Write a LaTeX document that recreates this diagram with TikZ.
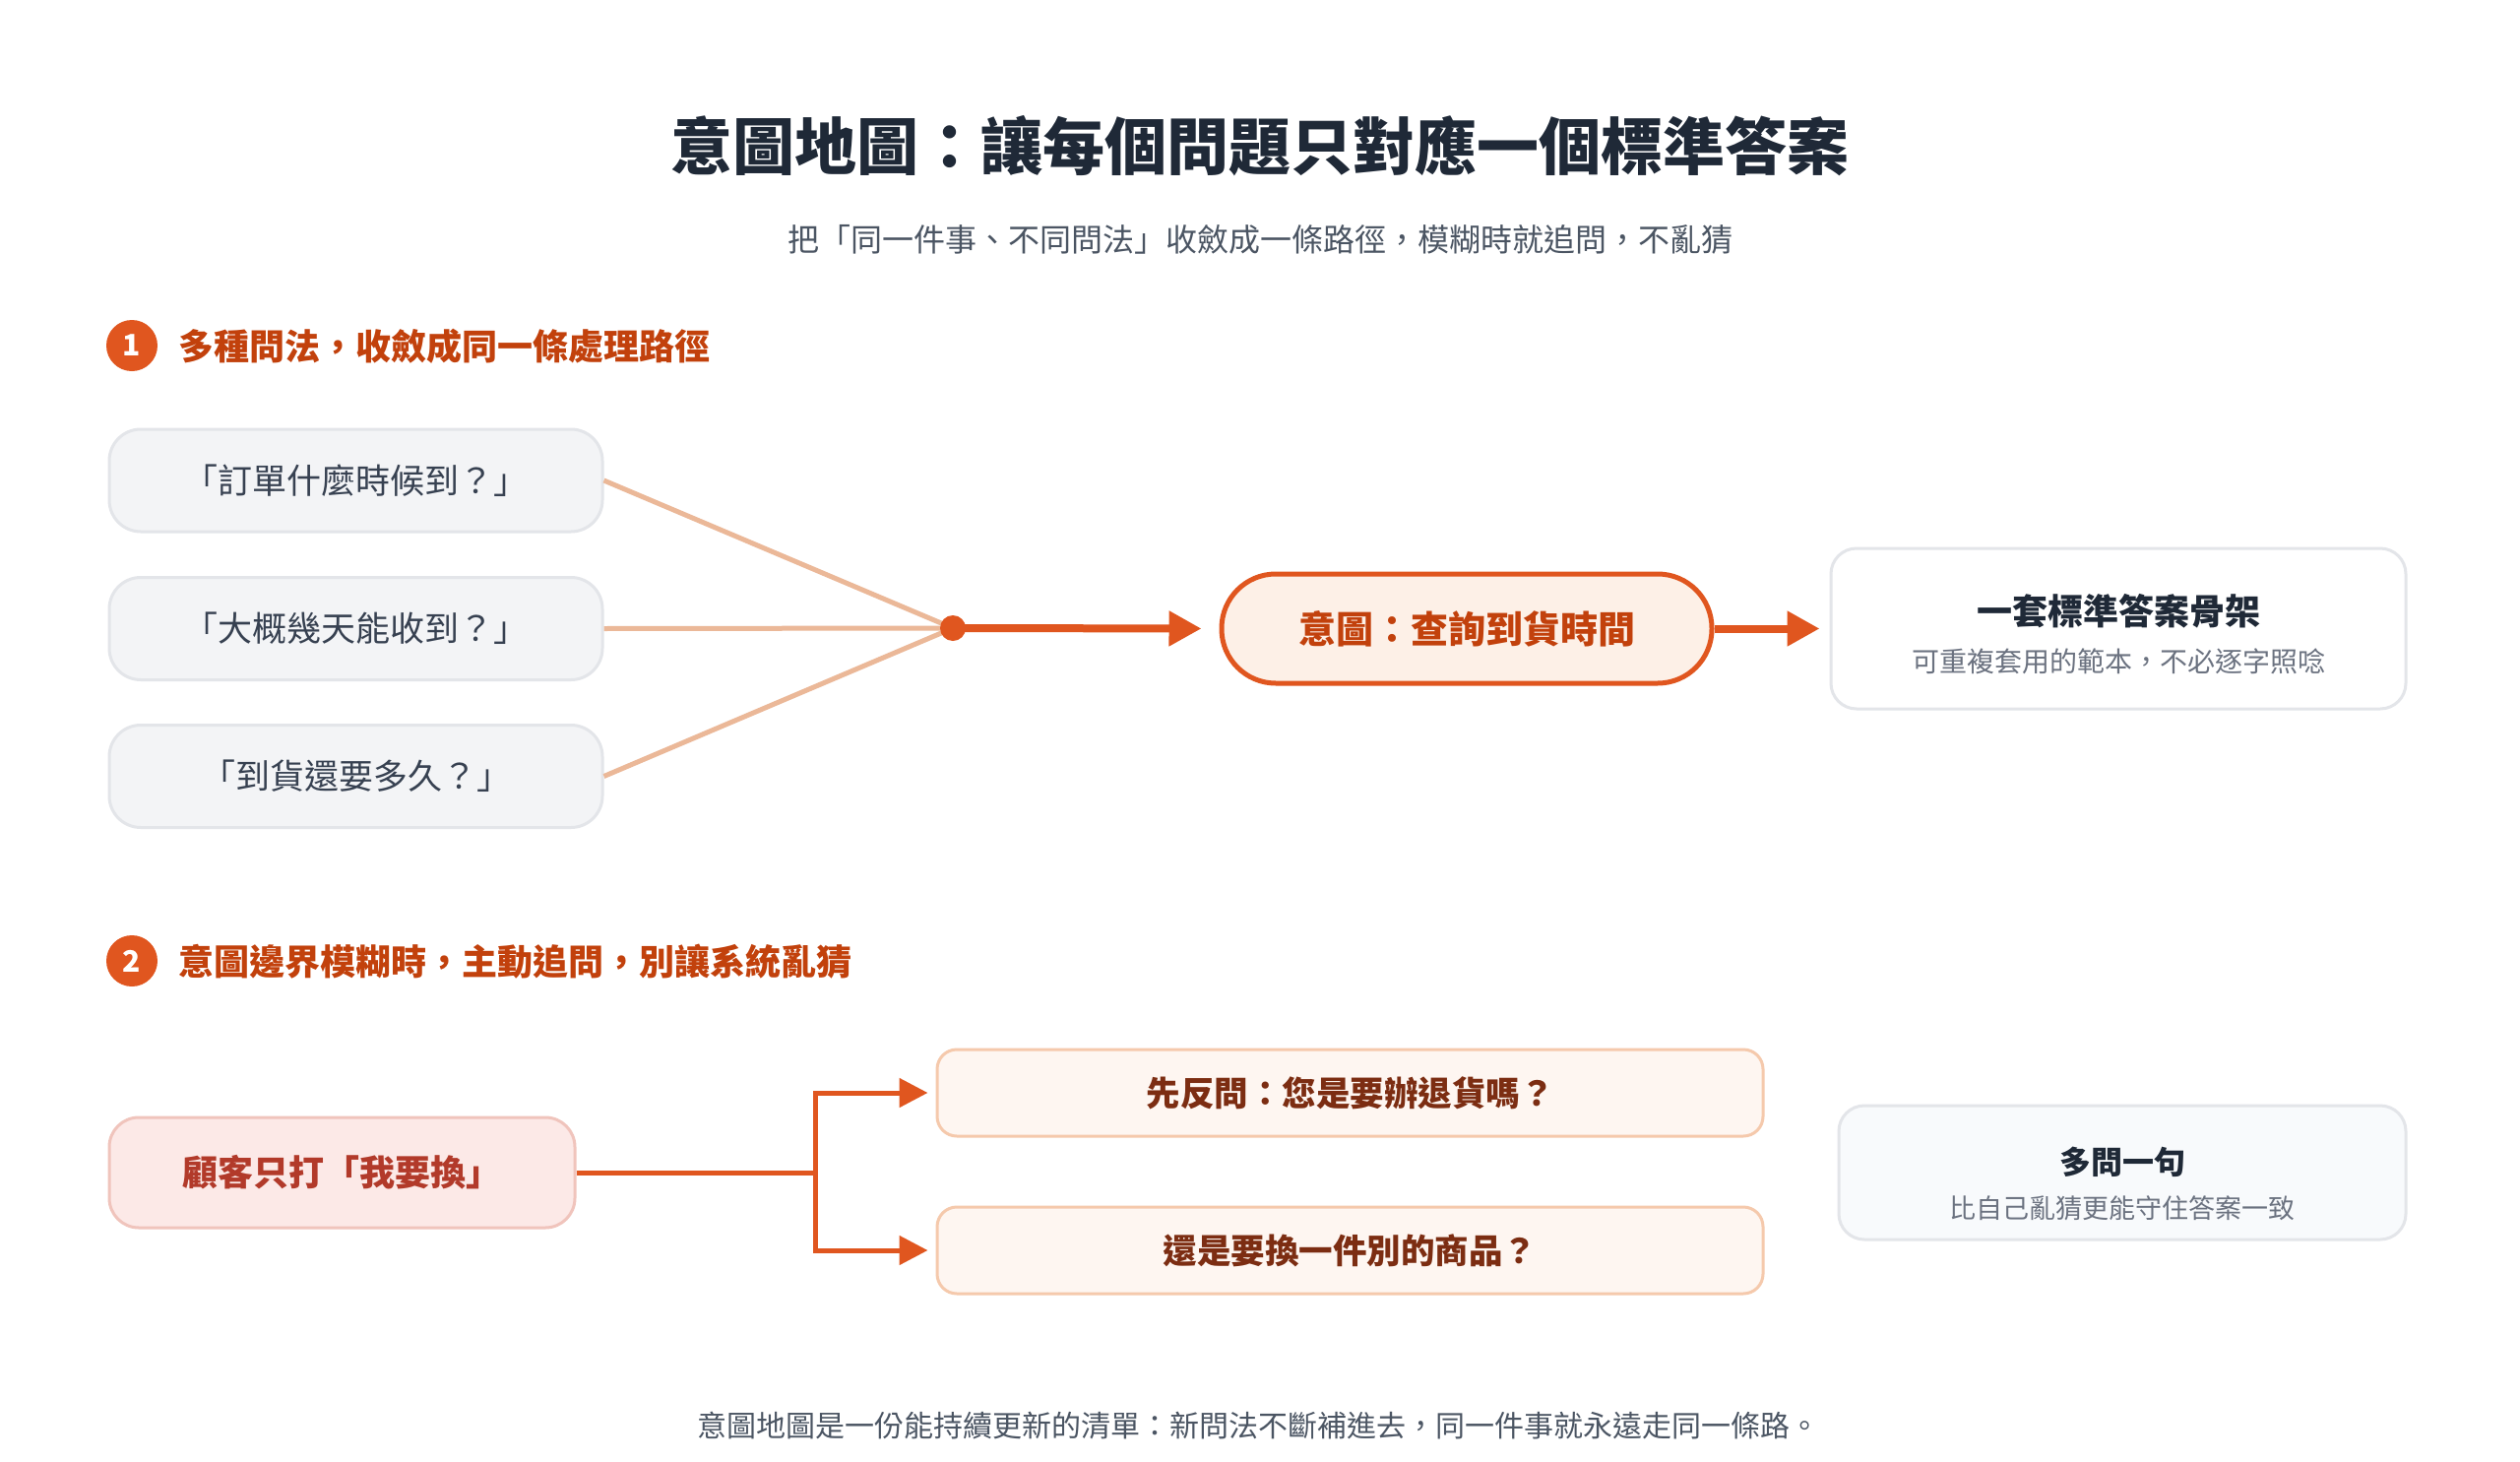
\documentclass[tikz,border=0pt]{standalone}
\usepackage{fontspec}
\setmainfont{Noto Sans CJK TC}
\usetikzlibrary{arrows.meta}
\definecolor{orng}{HTML}{E0561F}
\definecolor{secc}{HTML}{C2410C}
\definecolor{titlec}{HTML}{1F2937}
\definecolor{subc}{HTML}{4B5563}
\definecolor{qfill}{HTML}{F3F4F6}
\definecolor{qborder}{HTML}{E3E5E9}
\definecolor{qtext}{HTML}{374151}
\definecolor{fanc}{HTML}{EBB898}
\definecolor{intfill}{HTML}{FDF0E7}
\definecolor{pinkfill}{HTML}{FCE9E7}
\definecolor{pinkborder}{HTML}{F0C4BC}
\definecolor{pinktext}{HTML}{B23A2A}
\definecolor{optfill}{HTML}{FEF6F1}
\definecolor{optborder}{HTML}{F5C9AC}
\definecolor{opttext}{HTML}{7C2D12}
\definecolor{grayc}{HTML}{6B7280}
\definecolor{panelfill}{HTML}{F8FAFC}
\newcommand\myfs[1]{\fontsize{#1}{#1}\selectfont}
\begin{document}
\begin{tikzpicture}[x=1pt,y=-1pt,
  qbox/.style={draw=qborder, fill=qfill, line width=3pt, rounded corners=32pt, minimum width=501pt, minimum height=104pt, inner sep=0pt, font=\myfs{35}, text=qtext},
  fan/.style={draw=fanc, line width=5pt},
  flow/.style={draw=orng, line width=8pt, -{Triangle[length=33pt,width=34pt]}},
  branch/.style={draw=orng, line width=5pt},
  brarrow/.style={draw=orng, line width=5pt, -{Triangle[length=29pt,width=29pt]}},
  optbox/.style={draw=optborder, fill=optfill, line width=3pt, rounded corners=20pt, minimum width=839pt, minimum height=88pt, inner sep=0pt, font=\myfs{34.5}\bfseries, text=opttext},
  panel/.style={draw=qborder, line width=3pt, rounded corners=26pt, inner sep=0pt},
  secnum/.style={circle, fill=orng, minimum size=52pt, inner sep=0pt, text=white, font=\myfs{30}\bfseries},
  sechead/.style={anchor=west, inner sep=0pt, text=secc, font=\myfs{36}\bfseries}
]
\useasboundingbox[fill=white] (0,0) rectangle (2560,1485);

% title
\node[inner sep=0pt, text=titlec, font=\myfs{63}\bfseries] (title) at (1280,148) {意圖地圖：讓每個問題只對應一個標準答案};
\node[inner sep=0pt, text=subc, font=\myfs{32}] (subtitle) at (1280,243) {把「同一件事、不同問法」收斂成一條路徑，模糊時就追問，不亂猜};

% section 1
\node[secnum] (n1) at (134,351) {1};
\node[sechead] (h1) at (181,352) {多種問法，收斂成同一條處理路徑};

\node[qbox] (q1) at (361.5,488) {\raisebox{-2pt}{「訂單什麼時候到？」}};
\node[qbox] (q2) at (361.5,638.5) {\raisebox{-2pt}{「大概幾天能收到？」}};
\node[qbox] (q3) at (361.5,788.5) {\raisebox{-2pt}{「到貨還要多久？」}};

\coordinate (j) at (968,638);
\draw[fan] (q1.east) -- (j);
\draw[fan] (q2.east) -- (j);
\draw[fan] (q3.east) -- (j);

\node[draw=orng, fill=intfill, line width=5pt, rounded corners=55pt, minimum width=498pt, minimum height=111pt, inner sep=0pt, text=secc, font=\myfs{38}\bfseries] (intent) at (1490,638.5) {\raisebox{-2pt}{意圖：查詢到貨時間}};

\draw[flow, shorten >=18pt] (j) -- (intent.west);
\fill[orng] (j) circle (13pt);

\node[panel, fill=white, minimum width=584pt, minimum height=163pt] (ans) at (2152,638.5) {};
\node[inner sep=0pt, text=titlec, font=\myfs{36}\bfseries] (anst) at (2152,621) {一套標準答案骨架};
\node[inner sep=0pt, text=grayc, font=\myfs{28}] (anss) at (2152,672) {可重複套用的範本，不必逐字照唸};

\draw[flow, shorten >=10pt] (intent.east) -- (ans.west);

% section 2
\node[secnum] (n2) at (134,976) {2};
\node[sechead] (h2) at (181,977) {意圖邊界模糊時，主動追問，別讓系統亂猜};

\node[draw=pinkborder, fill=pinkfill, line width=3pt, rounded corners=30pt, minimum width=473pt, minimum height=112pt, inner sep=0pt, text=pinktext, font=\myfs{36}\bfseries] (cust) at (347.5,1191) {\raisebox{-2pt}{顧客只打「我要換」}};

\node[optbox] (o1) at (1371.5,1110) {\raisebox{-2pt}{先反問：您是要辦退貨嗎？}};
\node[optbox] (o2) at (1371.5,1270) {\raisebox{-2pt}{還是要換一件別的商品？}};

\coordinate (b) at (828,1191);
\draw[branch] (cust.east) -- (b);
\draw[brarrow, shorten >=8pt] (b) |- (o1.west);
\draw[brarrow, shorten >=8pt] (b) |- (o2.west);

\node[panel, fill=panelfill, minimum width=576pt, minimum height=136pt] (ask) at (2156,1191) {};
\node[inner sep=0pt, text=titlec, font=\myfs{32}\bfseries] (askt) at (2156,1180) {多問一句};
\node[inner sep=0pt, text=grayc, font=\myfs{27}] (asks) at (2156,1227) {比自己亂猜更能守住答案一致};

% footer
\node[inner sep=0pt, text=subc, font=\myfs{30}] (foot) at (1278,1448) {意圖地圖是一份能持續更新的清單：新問法不斷補進去，同一件事就永遠走同一條路。};
\end{tikzpicture}
\end{document}
